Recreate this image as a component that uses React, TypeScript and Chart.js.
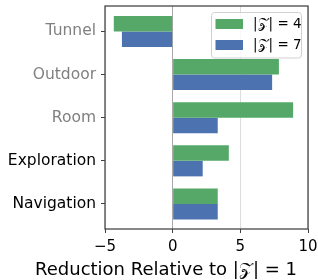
import React, { useEffect, useRef } from "react";
import { Chart, registerables } from "chart.js";

Chart.register(...registerables);

const categories = ["Tunnel", "Outdoor", "Room", "Exploration", "Navigation"];
const categoryColors = ["#808080", "#808080", "#808080", "#000000", "#000000"];
const seriesLabels = ["|𝒵| = 4", "|𝒵| = 7"];
const seriesColors = ["#55A868", "#4C72B0"];
const valuesZ4 = [-4.35, 7.85, 8.9, 4.15, 3.33];
const valuesZ7 = [-3.75, 7.35, 3.33, 2.22, 3.33];
const xTicks = [-5, 0, 5, 10];
const xTitle = "Reduction Relative to |𝒵| = 1";

const FONT = "'DejaVu Sans', sans-serif";
Chart.defaults.font.family = FONT;

const boxPlugin = {
  id: "boxPlugin",
  afterDraw(chart: any) {
    const { ctx, chartArea } = chart;
    ctx.save();
    ctx.strokeStyle = "#404040";
    ctx.lineWidth = 1.25;
    ctx.strokeRect(chartArea.left, chartArea.top, chartArea.right - chartArea.left, chartArea.bottom - chartArea.top);
    // x-axis title (drawn without width compression)
    ctx.fillStyle = "#000";
    ctx.font = `18px ${FONT}`;
    ctx.textAlign = "center";
    ctx.textBaseline = "alphabetic";
    ctx.fillText(xTitle, 166, 274.5);
    ctx.restore();
  },
};

const legendPlugin = {
  id: "insideLegend",
  afterDatasetsDraw(chart: any) {
    const { ctx, chartArea } = chart;
    const right = chartArea.right - 6.5;
    const top = chartArea.top + 6.5;
    const left = chartArea.left + 106.5;
    const bottom = top + 45.5;
    ctx.save();
    ctx.beginPath();
    const r = 3;
    ctx.moveTo(left + r, top);
    ctx.lineTo(right - r, top);
    ctx.quadraticCurveTo(right, top, right, top + r);
    ctx.lineTo(right, bottom - r);
    ctx.quadraticCurveTo(right, bottom, right - r, bottom);
    ctx.lineTo(left + r, bottom);
    ctx.quadraticCurveTo(left, bottom, left, bottom - r);
    ctx.lineTo(left, top + r);
    ctx.quadraticCurveTo(left, top, left + r, top);
    ctx.closePath();
    ctx.fillStyle = "rgba(255,255,255,0.8)";
    ctx.fill();
    ctx.strokeStyle = "#d0d0d0";
    ctx.lineWidth = 1;
    ctx.stroke();
    chart.data.datasets.forEach((ds: any, i: number) => {
      const cy = top + 11.5 + i * 21;
      ctx.fillStyle = ds.backgroundColor;
      ctx.fillRect(left + 4, cy - 5, 27.5, 10);
      ctx.fillStyle = "#000";
      ctx.font = `13.5px ${FONT}`;
      ctx.textBaseline = "middle";
      ctx.textAlign = "left";
      ctx.fillText(ds.label, left + 41.5, cy + 0.5);
    });
    ctx.restore();
  },
};

export default function App() {
  const ref = useRef<HTMLCanvasElement>(null);
  useEffect(() => {
    document.body.style.margin = "0";
    const canvas = ref.current!;
    const chart = new Chart(canvas, {
      type: "bar",
      data: {
        datasets: [
          {
            label: seriesLabels[0],
            data: valuesZ4.map((v, i) => ({ x: v, y: i })),
            backgroundColor: seriesColors[0],
            categoryPercentage: 0.72,
            barPercentage: 1,
          },
          {
            label: seriesLabels[1],
            data: valuesZ7.map((v, i) => ({ x: v, y: i })),
            backgroundColor: seriesColors[1],
            categoryPercentage: 0.72,
            barPercentage: 1,
          },
        ],
      },
      options: {
        indexAxis: "y",
        responsive: false,
        animation: false,
        layout: { padding: { left: 0, right: 10, top: 6, bottom: 0 } },
        plugins: { legend: { display: false }, tooltip: { enabled: false } },
        scales: {
          x: {
            type: "linear",
            min: -5,
            max: 10,
            offset: false,
            afterBuildTicks: (axis: any) => {
              axis.ticks = xTicks.map((v) => ({ value: v }));
            },
            afterFit: (axis: any) => {
              axis.height = 51;
              axis.paddingLeft = 0;
              axis.paddingRight = 0;
            },
            border: { display: false },
            grid: {
              offset: false,
              color: (c: any) => (c.tick && c.tick.value === 0 ? "#a8a8a8" : "#dcdcdc"),
              tickColor: "#404040",
              tickLength: 4,
              lineWidth: 1,
            },
            ticks: {
              color: "#000",
              font: { family: FONT, size: 15 },
              padding: 5,
              maxRotation: 0,
              autoSkip: false,
              callback: (v: any) => (v < 0 ? "\u2212" + Math.abs(v) : String(v)),
            },
            title: { display: false },
          },
          y: {
            type: "linear",
            reverse: true,
            min: -0.59,
            max: 4.58,
            offset: false,
            afterBuildTicks: (axis: any) => {
              axis.ticks = categories.map((_, i) => ({ value: i }));
            },
            afterFit: (axis: any) => {
              axis.width = 105;
              axis.paddingTop = 0;
              axis.paddingBottom = 0;
            },
            border: { display: false },
            grid: {
              offset: false,
              drawOnChartArea: false,
              tickColor: "#404040",
              tickLength: 4,
            },
            ticks: {
              font: { family: FONT, size: 15.5 },
              padding: 5,
              autoSkip: false,
              color: (c: any) => categoryColors[c.index] || "#000",
              callback: (v: any) => categories[v] ?? "",
            },
          },
        },
      },
      plugins: [boxPlugin, legendPlugin],
    } as any);
    return () => chart.destroy();
  }, []);
  return (
    <div style={{ width: 318, height: 280 }}>
      <canvas ref={ref} width={318} height={280} />
    </div>
  );
}
